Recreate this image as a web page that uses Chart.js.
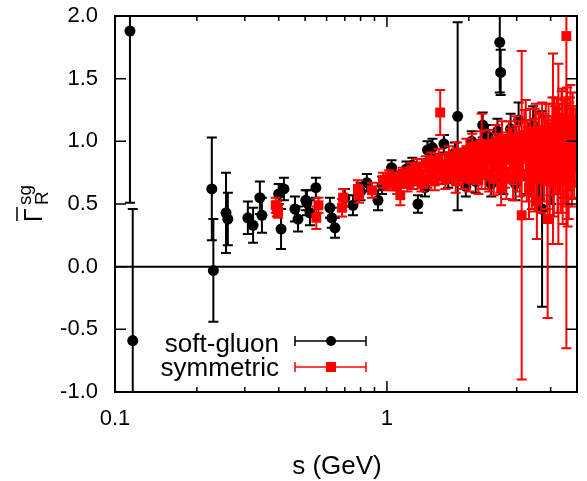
<!DOCTYPE html>
<html>
<head>
<meta charset="utf-8">
<script src="https://cdn.jsdelivr.net/npm/chart.js@4.4.1/dist/chart.umd.min.js"></script>
<style>
  html, body { margin: 0; padding: 0; background: #fff; }
</style>
</head>
<body>
<canvas id="gammaChart" width="587" height="481"></canvas>
<script>
// soft-gluon series (x = s in GeV, y, symmetric error)
var softX = [0.1135, 0.1162, 0.227, 0.230, 0.256, 0.260, 0.308, 0.322, 0.341, 0.347,
             0.408, 0.418, 0.400, 0.459, 0.471, 0.503, 0.508, 0.521, 0.548, 0.617,
             0.627, 0.644, 0.70, 0.750, 0.80, 0.844, 0.927, 0.96, 1.04, 1.10,
             1.18, 1.24, 1.30, 1.38, 1.41, 1.47, 1.52, 1.62, 1.68, 1.78,
             1.82, 1.95, 2.05, 2.12, 2.25, 2.35, 2.42, 2.55, 2.60, 2.62,
             2.68, 2.85, 2.97, 3.05, 3.28, 3.45, 3.62, 3.72, 3.80, 4.02,
             4.25, 4.45, 4.65, 4.92];
var softY = [1.88, -0.59, 0.62, -0.03, 0.43, 0.38, 0.39, 0.33, 0.55, 0.41,
             0.30, 0.62, 0.58, 0.46, 0.38, 0.53, 0.51, 0.43, 0.63, 0.47,
             0.39, 0.31, 0.55, 0.49, 0.60, 0.67, 0.53, 0.65, 0.79, 0.70,
             0.78, 0.81, 0.50, 0.63, 0.93, 0.95, 0.83, 0.98, 0.70, 0.91,
             1.20, 0.64, 1.00, 0.68, 1.13, 1.04, 0.66, 1.08, 1.79, 1.55,
             0.70, 1.10, 0.66, 1.17, 0.72, 1.13, 0.70, 0.46, 1.05, 0.68,
             1.08, 0.75, 1.00, 1.04];
var softErr = [1.37, 1.05, 0.41, 0.41, 0.32, 0.21, 0.13, 0.14, 0.13, 0.14,
               0.16, 0.09, 0.08, 0.10, 0.10, 0.08, 0.10, 0.10, 0.08, 0.08,
               0.08, 0.08, 0.07, 0.08, 0.07, 0.07, 0.08, 0.07, 0.06, 0.06,
               0.06, 0.06, 0.07, 0.07, 0.07, 0.07, 0.06, 0.07, 0.07, 0.08,
               0.75, 0.08, 0.08, 0.09, 0.10, 0.09, 0.10, 0.10, 0.40, 0.18,
               0.12, 0.12, 0.13, 0.14, 0.14, 0.15, 0.16, 0.78, 0.15, 0.18,
               0.18, 0.20, 0.18, 0.05];

// symmetric series
var symX = [0.390, 0.394, 0.398, 0.550, 0.560, 0.684, 0.690, 0.782, 0.790, 0.881,
            0.967, 1.05, 1.12, 1.21, 1.27, 1.32, 1.36, 1.43, 1.48, 1.53,
            1.57, 1.61, 1.66, 1.72, 1.76, 1.83, 1.87, 1.93, 1.98, 2.03,
            2.08, 2.14, 2.19, 2.23, 2.27, 2.33, 2.38, 2.44, 2.49, 2.53,
            2.58, 2.63, 2.67, 2.72, 2.78, 2.83, 2.88, 2.93, 2.99, 3.04,
            3.08, 3.13, 3.17, 3.24, 3.29, 3.33, 3.38, 3.44, 3.50, 3.56,
            3.61, 3.66, 3.74, 3.78, 3.84, 3.90, 3.97, 4.03, 4.08, 4.13,
            4.18, 4.27, 4.31, 4.36, 4.41, 4.47, 4.52, 4.57, 4.62, 4.68,
            4.73, 4.79, 4.84, 4.88, 4.93, 4.97,
            1.00, 1.02, 1.07, 1.09, 1.14, 1.16, 1.19, 1.23, 1.25, 1.29,
            1.34, 1.39, 1.41, 1.45, 1.50, 1.55, 1.59, 1.64, 1.69, 1.74,
            1.79, 1.81, 1.85, 1.90, 1.96, 2.01, 2.06, 2.11, 2.17, 2.21,
            2.30, 2.36, 2.41, 2.47, 2.51, 2.56, 2.61, 2.65, 2.70, 2.75,
            2.81, 2.86, 2.91, 2.96, 3.01, 3.06, 3.11, 3.20, 3.27, 3.31,
            3.36, 3.41, 3.47, 3.53, 3.58, 3.64, 3.69, 3.72, 3.81, 3.87,
            3.93, 3.99, 4.06, 4.11, 4.16, 4.22, 4.24, 4.33, 4.39, 4.43,
            4.49, 4.55, 4.60, 4.66, 4.71, 4.76, 4.82, 4.86, 4.91, 4.95];
var symY = [0.49, 0.46, 0.44, 0.39, 0.49, 0.47, 0.55, 0.62, 0.57, 0.61,
            0.69, 0.67, 0.57, 0.71, 0.73, 0.74, 0.70, 0.78, 0.74, 0.80,
            1.23, 0.72, 0.82, 0.76, 0.84, 0.73, 0.80, 0.86, 0.77, 0.83,
            0.88, 0.75, 0.85, 0.92, 0.80, 0.90, 0.72, 0.86, 0.79, 0.93,
            0.83, 0.63, 0.88, 0.76, 0.95, 0.85, 0.90, 0.80, 0.97, 0.86,
            0.74, 0.41, 0.92, 0.95, 1.00, 0.63, 0.84, 0.78, 0.85, 0.52,
            1.02, 0.90, 0.97, 0.80, 1.08, 0.38, 0.70, 0.92, 0.94, 1.10,
            0.88, 0.90, 1.00, 0.78, 1.12, 0.85, 1.05, 1.84, 0.72, 0.96,
            1.15, 0.88, 0.98, 0.80, 1.05, 0.93,
            0.66, 0.72, 0.70, 0.64, 0.74, 0.69, 0.66, 0.77, 0.68, 0.80,
            0.66, 0.82, 0.70, 0.85, 0.68, 0.87, 0.77, 0.70, 0.88, 0.80,
            0.68, 0.91, 0.85, 0.71, 0.93, 0.70, 0.96, 0.79, 0.69, 0.98,
            0.74, 0.97, 0.89, 0.70, 1.00, 0.92, 0.74, 1.02, 0.87, 0.70,
            1.00, 0.93, 0.71, 1.03, 0.78, 0.98, 0.88, 1.05, 0.74, 0.90,
            1.04, 0.70, 0.95, 1.08, 0.76, 0.98, 0.70, 1.06, 0.92, 0.74,
            1.03, 0.86, 1.07, 0.72, 0.98, 1.04, 0.76, 0.90, 1.08, 0.70,
            0.99, 0.84, 1.10, 0.76, 1.00, 0.90, 1.07, 0.92, 0.86, 1.00];
var symErr = [0.06, 0.06, 0.05, 0.09, 0.06, 0.07, 0.07, 0.07, 0.06, 0.06,
              0.06, 0.06, 0.08, 0.06, 0.05, 0.06, 0.06, 0.05, 0.06, 0.06,
              0.18, 0.06, 0.07, 0.06, 0.07, 0.07, 0.08, 0.07, 0.08, 0.08,
              0.08, 0.09, 0.09, 0.30, 0.10, 0.09, 0.12, 0.10, 0.11, 0.10,
              0.12, 0.14, 0.12, 0.13, 0.12, 0.13, 0.14, 0.14, 0.15, 0.15,
              0.18, 1.31, 0.16, 0.38, 0.17, 0.25, 0.20, 0.22, 0.41, 0.30,
              0.20, 0.22, 0.25, 0.28, 0.22, 0.79, 0.30, 0.28, 0.76, 0.25,
              0.30, 0.72, 0.30, 0.35, 0.30, 0.35, 0.30, 2.49, 0.40, 0.35,
              0.30, 0.40, 0.30, 0.25, 0.20, 0.12,
              0.05, 0.05, 0.05, 0.06, 0.05, 0.06, 0.06, 0.06, 0.06, 0.06,
              0.06, 0.06, 0.07, 0.06, 0.07, 0.07, 0.07, 0.08, 0.08, 0.08,
              0.09, 0.08, 0.09, 0.09, 0.09, 0.10, 0.10, 0.10, 0.11, 0.10,
              0.12, 0.12, 0.12, 0.13, 0.13, 0.14, 0.15, 0.14, 0.15, 0.16,
              0.16, 0.17, 0.18, 0.17, 0.18, 0.18, 0.19, 0.20, 0.22, 0.21,
              0.22, 0.24, 0.23, 0.22, 0.25, 0.25, 0.27, 0.25, 0.27, 0.28,
              0.27, 0.29, 0.28, 0.32, 0.30, 0.30, 0.33, 0.32, 0.32, 0.36,
              0.34, 0.36, 0.33, 0.38, 0.35, 0.36, 0.32, 0.28, 0.22, 0.15];

var yTicks = [-1.0, -0.5, 0.0, 0.5, 1.0, 1.5, 2.0];
var xMajorTicks = [0.1, 1];
var xMinorTicks = [0.2, 0.3, 0.4, 0.5, 0.6, 0.7, 0.8, 0.9, 2, 3, 4];
var seriesNames = ["soft-gluon", "symmetric"];

var FONT = "'Liberation Sans', Arial, Helvetica, sans-serif";

function pts(xs, ys, es) {
    return xs.map(function (x, i) { return { x: x, y: ys[i], e: es[i] }; });
}

// vertical error bars, drawn under each dataset's markers
var errorBars = {
    id: 'errorBars',
    beforeDatasetDraw: function (chart, args) {
        var ds = chart.data.datasets[args.index];
        var xs = chart.scales.x, ys = chart.scales.y;
        var ctx = chart.ctx, a = chart.chartArea;
        var cap = 5;
        ctx.save();
        ctx.beginPath();
        ctx.rect(a.left, a.top, a.right - a.left, a.bottom - a.top);
        ctx.clip();
        ctx.strokeStyle = ds.borderColor;
        ctx.lineWidth = 2;
        ds.data.forEach(function (p) {
            var px = xs.getPixelForValue(p.x);
            var t = ys.getPixelForValue(p.y + p.e);
            var b = ys.getPixelForValue(p.y - p.e);
            ctx.beginPath();
            ctx.moveTo(px, t); ctx.lineTo(px, b);
            ctx.moveTo(px - cap, t); ctx.lineTo(px + cap, t);
            ctx.moveTo(px - cap, b); ctx.lineTo(px + cap, b);
            ctx.stroke();
        });
        ctx.restore();
    }
};

// zero line, frame, inward ticks, titles and legend
var frame = {
    id: 'frame',
    beforeDatasetsDraw: function (chart) {
        var ctx = chart.ctx, a = chart.chartArea;
        var y0 = chart.scales.y.getPixelForValue(0);
        ctx.save();
        ctx.strokeStyle = '#000';
        ctx.lineWidth = 2;
        ctx.beginPath();
        ctx.moveTo(a.left, y0); ctx.lineTo(a.right, y0);
        ctx.stroke();
        ctx.restore();
    },
    afterDatasetsDraw: function (chart) {
        var ctx = chart.ctx, a = chart.chartArea;
        var xs = chart.scales.x, ys = chart.scales.y;
        ctx.save();
        ctx.strokeStyle = '#000';
        ctx.lineWidth = 2;
        ctx.strokeRect(a.left, a.top, a.right - a.left, a.bottom - a.top);
        ctx.lineWidth = 1.5;
        ctx.beginPath();
        yTicks.forEach(function (v) {
            var py = ys.getPixelForValue(v);
            ctx.moveTo(a.left, py); ctx.lineTo(a.left + 11, py);
            ctx.moveTo(a.right, py); ctx.lineTo(a.right - 11, py);
        });
        xMajorTicks.forEach(function (v) {
            var px = xs.getPixelForValue(v);
            ctx.moveTo(px, a.bottom); ctx.lineTo(px, a.bottom - 11);
            ctx.moveTo(px, a.top); ctx.lineTo(px, a.top + 11);
        });
        xMinorTicks.forEach(function (v) {
            var px = xs.getPixelForValue(v);
            ctx.moveTo(px, a.bottom); ctx.lineTo(px, a.bottom - 5);
            ctx.moveTo(px, a.top); ctx.lineTo(px, a.top + 5);
        });
        ctx.stroke();
        ctx.restore();
    },
    afterDraw: function (chart) {
        var ctx = chart.ctx;
        ctx.save();
        ctx.fillStyle = '#000';
        ctx.strokeStyle = '#000';

        // x title
        ctx.font = '26px ' + FONT;
        ctx.textAlign = 'center';
        ctx.textBaseline = 'alphabetic';
        ctx.fillText('s (GeV)', 337, 474);

        // y title, rotated
        ctx.save();
        ctx.rotate(-Math.PI / 2);
        ctx.textAlign = 'left';
        ctx.font = '25px ' + FONT;
        ctx.fillText('\u0393', -222, 42);
        ctx.lineWidth = 1.5;
        ctx.beginPath();
        ctx.moveTo(-221, 17); ctx.lineTo(-207, 17);
        ctx.stroke();
        ctx.font = '19px ' + FONT;
        ctx.fillText('R', -205, 48);
        ctx.fillText('sg', -205, 31);
        ctx.restore();

        // legend
        var rows = [
            { y: 341, ty: 352, color: '#000', style: 'circle' },
            { y: 367, ty: 376, color: '#ff0000', style: 'rect' }
        ];
        ctx.font = '26px ' + FONT;
        ctx.textAlign = 'right';
        rows.forEach(function (r, i) {
            ctx.fillStyle = '#000';
            ctx.fillText(seriesNames[i], 279, r.ty);
            ctx.strokeStyle = r.color;
            ctx.fillStyle = r.color;
            ctx.lineWidth = 1.5;
            ctx.beginPath();
            ctx.moveTo(295, r.y); ctx.lineTo(366, r.y);
            ctx.moveTo(295, r.y - 5); ctx.lineTo(295, r.y + 5);
            ctx.moveTo(366, r.y - 5); ctx.lineTo(366, r.y + 5);
            ctx.stroke();
            if (r.style === 'circle') {
                ctx.beginPath();
                ctx.arc(331, r.y, 5, 0, Math.PI * 2);
                ctx.fill();
            } else {
                ctx.fillRect(326, r.y - 5, 10, 10);
            }
        });
        ctx.restore();
    }
};

var ctxG = document.getElementById("gammaChart").getContext('2d');
var gammaChart = new Chart(ctxG, {
    type: 'scatter',
    data: {
        datasets: [{
                label: seriesNames[0],
                data: pts(softX, softY, softErr),
                borderColor: '#000',
                backgroundColor: '#000',
                pointStyle: 'circle',
                pointRadius: 5.5,
                pointHoverRadius: 5.5,
                borderWidth: 0,
                order: 2
            }, {
                label: seriesNames[1],
                data: pts(symX, symY, symErr),
                borderColor: '#ff0000',
                backgroundColor: '#ff0000',
                pointStyle: 'rect',
                pointRadius: 7,
                pointHoverRadius: 7,
                borderWidth: 0,
                order: 1
            }
        ]
    },
    options: {
        responsive: false,
        animation: false,
        events: [],
        layout: { padding: { left: 0, right: 10, top: 16, bottom: 0 } },
        plugins: {
            legend: { display: false },
            tooltip: { enabled: false }
        },
        scales: {
            x: {
                type: 'logarithmic',
                min: 0.1,
                max: 5,
                afterBuildTicks: function (s) {
                    s.ticks = xMajorTicks.map(function (v) { return { value: v }; });
                },
                afterFit: function (s) {
                    s.height = 89;
                    s.paddingLeft = 0; s.paddingRight = 0;
                },
                grid: { display: false, drawTicks: false },
                border: { display: false },
                ticks: {
                    padding: 14,
                    color: '#000',
                    font: { family: FONT, size: 22 },
                    maxRotation: 0,
                    callback: function (v) { return String(v); }
                }
            },
            y: {
                min: -1,
                max: 2,
                afterBuildTicks: function (s) {
                    s.ticks = yTicks.map(function (v) { return { value: v }; });
                },
                afterFit: function (s) {
                    s.width = 115;
                    s.paddingTop = 0; s.paddingBottom = 0;
                },
                grid: { display: false, drawTicks: false },
                border: { display: false },
                ticks: {
                    padding: 17,
                    color: '#000',
                    font: { family: FONT, size: 22 },
                    callback: function (v) { return Number(v).toFixed(1); }
                }
            }
        }
    },
    plugins: [errorBars, frame]
});
</script>
</body>
</html>
